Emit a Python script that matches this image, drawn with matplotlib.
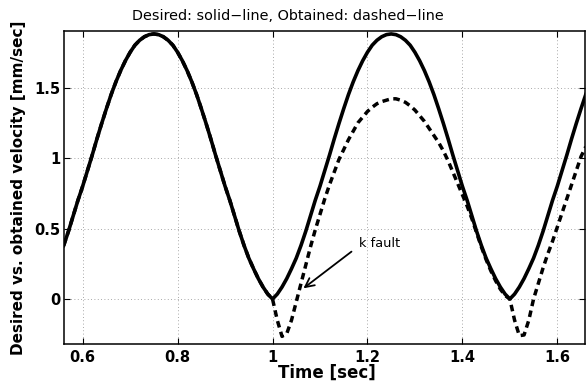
import numpy as np
import matplotlib
matplotlib.use("Agg")
import matplotlib.pyplot as plt

# time samples (sec)
t = np.linspace(0.56, 1.66, 111)

# desired velocity (mm/sec)
desired = [
    0.38, 0.48, 0.59, 0.70, 0.80, 0.91, 1.02, 1.135, 1.245, 1.35,
    1.45, 1.54, 1.62, 1.69, 1.75, 1.80, 1.835, 1.86, 1.875, 1.88,
    1.875, 1.86, 1.835, 1.80, 1.75, 1.69, 1.62, 1.54, 1.45, 1.35,
    1.245, 1.135, 1.02, 0.91, 0.80, 0.70, 0.59, 0.48, 0.38, 0.29,
    0.215, 0.145, 0.085, 0.035, 0.00,
    0.035, 0.085, 0.145, 0.215, 0.29, 0.38, 0.48, 0.59, 0.70, 0.80,
    0.91, 1.02, 1.135, 1.245, 1.35, 1.45, 1.54, 1.62, 1.69, 1.75,
    1.80, 1.835, 1.86, 1.875, 1.88,
    1.875, 1.86, 1.835, 1.80, 1.75, 1.69, 1.62, 1.54, 1.45, 1.35,
    1.245, 1.135, 1.02, 0.91, 0.80, 0.70, 0.59, 0.48, 0.38, 0.29,
    0.215, 0.145, 0.085, 0.035, 0.00,
    0.035, 0.085, 0.145, 0.215, 0.29, 0.38, 0.48, 0.59, 0.70, 0.80,
    0.91, 1.02, 1.135, 1.245, 1.35, 1.45,
]

# obtained velocity (same as desired until the fault at t=1)
obtained = desired[:45] + [
    -0.15, -0.265, -0.245, -0.15, -0.02, 0.11, 0.24, 0.37, 0.49, 0.60,
    0.71, 0.81, 0.90, 0.99, 1.06, 1.13, 1.19, 1.25, 1.29, 1.33,
    1.36, 1.385, 1.40, 1.41, 1.42,
    1.42, 1.41, 1.395, 1.37, 1.34, 1.30, 1.26, 1.21, 1.16, 1.11,
    1.05, 0.98, 0.90, 0.82, 0.74, 0.66, 0.57, 0.47, 0.37, 0.28,
    0.20, 0.13, 0.07, 0.025, 0.00,
    -0.15, -0.26, -0.255, -0.15, 0.00, 0.11, 0.22, 0.32, 0.41, 0.51,
    0.61, 0.71, 0.81, 0.91, 1.01, 1.08,
]

xticks = [0.6, 0.8, 1.0, 1.2, 1.4, 1.6]
xticklabels = ["0.6", "0.8", "1", "1.2", "1.4", "1.6"]
yticks = [0, 0.5, 1.0, 1.5]
yticklabels = ["0", "0.5", "1", "1.5"]

fig = plt.figure(figsize=(5.87, 3.85), dpi=100)
ax = fig.add_axes([0.109, 0.1065, 0.8876, 0.8138])

ax.plot(t, desired, color="black", lw=2.6, solid_joinstyle="round")
ax.plot(t, obtained, color="black", lw=2.5, linestyle="--", dashes=(1.9, 1.3))

ax.set_xlim(0.5606, 1.6584)
ax.set_ylim(-0.319, 1.903)

ax.set_xticks(xticks)
ax.set_xticklabels(xticklabels)
ax.set_yticks(yticks)
ax.set_yticklabels(yticklabels)
for lab in ax.get_xticklabels() + ax.get_yticklabels():
    lab.set_fontweight("bold")
    lab.set_fontsize(10.5)

ax.tick_params(axis="both", direction="in", length=4, width=0.8,
               top=True, right=True)
ax.tick_params(axis="x", pad=4.5)
ax.tick_params(axis="y", pad=2.5)
for sp in ax.spines.values():
    sp.set_linewidth(1.1)

ax.grid(True, color="0.55", linestyle=(0, (1, 3)), linewidth=0.6)
ax.set_axisbelow(True)

ax.set_xlabel("Time [sec]", fontsize=12, fontweight="bold", va="center")
ax.xaxis.set_label_coords(0.504, -0.093)
ax.set_ylabel("Desired vs. obtained velocity [mm/sec]", fontsize=11,
              fontweight="bold", va="center")
ax.yaxis.set_label_coords(-0.088, 0.5)

fig.text(288 / 587, 1 - 20.5 / 385,
         "Desired: solid\u2212line, Obtained: dashed\u2212line",
         fontsize=10.4, ha="center", va="baseline")

ax.annotate("", xy=(1.0605, 0.064), xytext=(1.171, 0.348),
            arrowprops=dict(arrowstyle="->", color="black", lw=1.3,
                            mutation_scale=16))
ax.text(1.183, 0.372, "k fault", fontsize=9.3, ha="left", va="baseline")

fig.savefig("out.png", dpi=100)
